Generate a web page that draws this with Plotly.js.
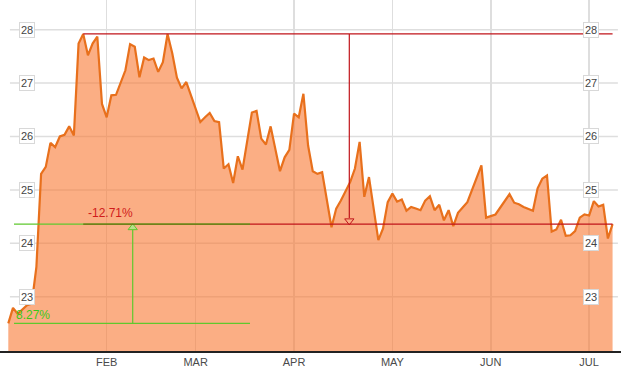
<!DOCTYPE html>
<html><head><meta charset="utf-8">
<script src="https://cdn.plot.ly/plotly-3.0.1.min.js"></script>
<style>html,body{margin:0;padding:0;background:#fff}#chart{width:621px;height:369px}</style>
</head><body><div id="chart"></div>
<script>
// Trading-day vertices of the price line (2014)
const dates = [
'2014-01-02','2014-01-03','2014-01-06','2014-01-08','2014-01-09','2014-01-10',
'2014-01-13','2014-01-14','2014-01-15','2014-01-16','2014-01-17','2014-01-21','2014-01-22','2014-01-23','2014-01-24',
'2014-01-27','2014-01-28','2014-01-29','2014-01-30','2014-01-31',
'2014-02-03','2014-02-04','2014-02-05',
'2014-02-07','2014-02-10','2014-02-11','2014-02-12','2014-02-13','2014-02-14','2014-02-18','2014-02-19','2014-02-20','2014-02-21',
'2014-02-24','2014-02-25','2014-02-26','2014-02-27',
'2014-03-04','2014-03-05','2014-03-06','2014-03-07','2014-03-10','2014-03-11','2014-03-12','2014-03-13','2014-03-14','2014-03-17',
'2014-03-19','2014-03-20','2014-03-21','2014-03-24','2014-03-25',
'2014-03-27','2014-03-28','2014-03-31',
'2014-04-01','2014-04-02','2014-04-03','2014-04-04','2014-04-07','2014-04-08','2014-04-09',
'2014-04-11','2014-04-14','2014-04-15',
'2014-04-17','2014-04-21','2014-04-22','2014-04-23','2014-04-24',
'2014-04-28','2014-04-29','2014-04-30',
'2014-05-01','2014-05-02','2014-05-05','2014-05-06','2014-05-07','2014-05-08','2014-05-09','2014-05-12','2014-05-13','2014-05-14','2014-05-15','2014-05-16','2014-05-19','2014-05-20','2014-05-21','2014-05-22','2014-05-23',
'2014-05-29','2014-05-30',
'2014-06-03',
'2014-06-06','2014-06-09','2014-06-10','2014-06-11',
'2014-06-13','2014-06-16','2014-06-17','2014-06-18','2014-06-19','2014-06-20','2014-06-23','2014-06-24','2014-06-25','2014-06-26','2014-06-27','2014-06-30',
'2014-07-01','2014-07-02','2014-07-03','2014-07-07','2014-07-08','2014-07-09'
];
const prices = [
22.50,22.79,22.68,22.84,22.87,23.56,
25.30,25.43,25.88,25.80,26.00,26.03,26.19,26.02,27.74,
27.92,27.52,27.74,27.87,26.61,
26.36,26.77,26.78,
27.24,27.73,27.68,27.11,27.48,27.43,27.46,27.21,27.39,27.92,
27.56,27.10,26.90,27.02,
26.27,26.36,26.44,26.29,26.27,25.40,25.48,25.13,25.63,25.38,
26.45,26.48,25.96,25.85,26.19,
25.35,25.61,25.75,
26.43,26.36,26.80,25.83,25.35,25.30,25.33,
24.30,24.65,24.80,
25.15,25.40,25.90,24.87,25.24,
24.06,24.28,24.77,
24.93,24.78,24.82,24.61,24.68,24.65,24.62,24.80,24.88,24.62,24.72,24.43,24.62,24.32,24.57,24.67,24.77,
25.46,24.48,
24.54,
24.92,24.76,24.73,24.68,
24.61,25.03,25.21,25.27,24.22,24.26,24.44,24.14,24.15,24.23,24.48,24.54,
24.52,24.79,24.69,24.72,24.09,24.36
];
const monthTickDates = ['2014-02-03','2014-03-03','2014-04-01','2014-05-01','2014-06-02','2014-07-01'];
const monthTickLabels = ['FEB','MAR','APR','MAY','JUN','JUL'];
const priceTicks = [23,24,25,26,27,28];
const priceTickLabels = ['23','24','25','26','27','28'];
const holidays = ['2014-01-01','2014-01-20','2014-02-17','2014-04-18','2014-05-26','2014-07-04'];

// Performance markers
const highValue = 27.92, lastValue = 24.36, startValue = 22.50;
const highDate = '2014-01-27', lastDate = '2014-07-09';
const dropLabel = '-12.71%', gainLabel = '8.27%';
const gainStart = '2014-01-03T05:17', gainEnd = '2014-03-18T14:24';
const dropArrowDate = '2014-04-16T19:12', gainArrowDate = '2014-02-10T13:26';

const yRange = [21.983, 28.556];
const xRange = ['2013-12-30T05:30', '2014-07-10T19:12'];
const plotH = 351;
const pxUnit = (yRange[1]-yRange[0]) / plotH;

const RED = '#c0141a', GREEN = '#5fc82e', OLIVE = '#6a6a0c';

const traces = [
  {x: dates, y: prices, type: 'scatter', mode: 'lines', fill: 'tozeroy',
   fillcolor: 'rgba(249,120,50,0.6)', line: {color: '#e8701c', width: 2.2},
   hoverinfo: 'skip', showlegend: false},
  {x: [dropArrowDate], y: [lastValue + 3.2*pxUnit], type: 'scatter', mode: 'markers',
   marker: {symbol: 'triangle-down-open', size: 8, color: RED, line: {width: 1, color: RED}},
   hoverinfo: 'skip', showlegend: false},
  {x: [gainArrowDate], y: [lastValue - 3.6*pxUnit], type: 'scatter', mode: 'markers',
   marker: {symbol: 'triangle-up', size: 8, color: 'rgba(170,230,140,0.85)', line: {width: 1, color: GREEN}},
   hoverinfo: 'skip', showlegend: false}
];

const shapes = [];
priceTicks.forEach(v => shapes.push({type: 'line', xref: 'paper', yref: 'y', x0: 0.016, x1: 0.995, y0: v, y1: v,
  line: {color: '#dedede', width: 1.5}, layer: 'below'}));
// high line, vertical drop line
shapes.push({type: 'line', xref: 'x', yref: 'y', x0: highDate, x1: lastDate, y0: highValue, y1: highValue, line: {color: RED, width: 1.2}});
shapes.push({type: 'line', xref: 'x', yref: 'y', x0: dropArrowDate, x1: dropArrowDate, y0: highValue, y1: lastValue + 6*pxUnit, line: {color: RED, width: 1.2}});
// gain lines
shapes.push({type: 'line', xref: 'x', yref: 'y', x0: gainStart, x1: gainEnd, y0: startValue, y1: startValue, line: {color: GREEN, width: 1.2}});
shapes.push({type: 'line', xref: 'x', yref: 'y', x0: gainStart, x1: gainEnd, y0: lastValue, y1: lastValue, line: {color: GREEN, width: 1.2}});
shapes.push({type: 'line', xref: 'x', yref: 'y', x0: gainArrowDate, x1: gainArrowDate, y0: startValue, y1: lastValue - 6*pxUnit, line: {color: GREEN, width: 1.2}});
// last-price line (red), overlap with green looks olive
shapes.push({type: 'line', xref: 'x', yref: 'y', x0: gainEnd, x1: lastDate, y0: lastValue, y1: lastValue, line: {color: RED, width: 1.2}});
shapes.push({type: 'line', xref: 'x', yref: 'y', x0: highDate, x1: gainEnd, y0: lastValue, y1: lastValue, line: {color: OLIVE, width: 1.2}});

const annotations = [];
priceTicks.forEach((v, i) => {
  [0.0427, 0.9517].forEach(px => annotations.push({xref: 'paper', yref: 'y', x: px, y: v, text: priceTickLabels[i],
    showarrow: false, xanchor: 'center', yanchor: 'middle', bgcolor: '#fff', bordercolor: '#d8d8d8', borderwidth: 1, borderpad: 1,
    font: {family: 'Liberation Sans, Arial, sans-serif', size: 11, color: '#444'}}));
});
annotations.push({xref: 'x', yref: 'y', x: highDate, y: lastValue, text: dropLabel, showarrow: false,
  xanchor: 'left', yanchor: 'bottom', xshift: 3, yshift: 2,
  font: {family: 'Liberation Sans, Arial, sans-serif', size: 12, color: '#d01c1c'}});
annotations.push({xref: 'x', yref: 'y', x: gainStart, y: startValue, text: gainLabel, showarrow: false,
  xanchor: 'left', yanchor: 'bottom', xshift: 0, yshift: -1,
  font: {family: 'Liberation Sans, Arial, sans-serif', size: 12, color: '#3cc818'}});

const layout = {
  width: 621, height: 369,
  margin: {l: 0, r: 0, t: 0, b: 18},
  paper_bgcolor: '#fff', plot_bgcolor: '#fff',
  showlegend: false,
  xaxis: {type: 'date', range: xRange,
    rangebreaks: [{bounds: ['sat', 'mon']}, {values: holidays}],
    tickvals: monthTickDates, ticktext: monthTickLabels, ticks: '',
    showgrid: true, gridcolor: '#dedede', gridwidth: 1.5,
    showline: true, linecolor: '#222', linewidth: 1.5, zeroline: false,
    tickfont: {family: 'Liberation Sans, Arial, sans-serif', size: 11, color: '#4a4a4a'}},
  yaxis: {range: yRange, showgrid: false, zeroline: false, showticklabels: false, showline: false, ticks: ''},
  shapes: shapes,
  annotations: annotations
};

Plotly.newPlot('chart', traces, layout, {displayModeBar: false, staticPlot: true});
</script></body></html>
